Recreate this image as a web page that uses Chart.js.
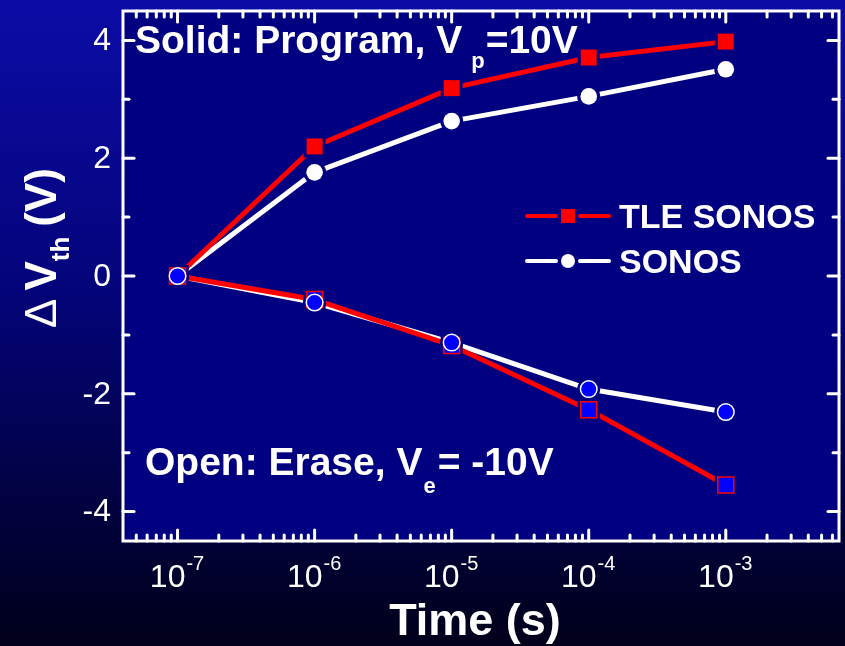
<!DOCTYPE html>
<html><head><meta charset="utf-8">
<script src="https://cdn.jsdelivr.net/npm/chart.js@4"></script>
<style>html,body{margin:0;padding:0;background:#000;overflow:hidden}canvas{display:block}</style>
</head><body>
<canvas id="c" width="845" height="646"></canvas>
<script>
// ---- data ----
const times = [1e-7, 1e-6, 1e-5, 1e-4, 1e-3];
const tleProgram   = [0, 2.20, 3.19, 3.71, 3.98];
const sonosProgram = [0, 1.76, 2.63, 3.05, 3.51];
const tleErase     = [0, -0.40, -1.18, -2.27, -3.55];
const sonosErase   = [0, -0.45, -1.13, -1.92, -2.31];
const xTickExponents = [-7, -6, -5, -4, -3];
const yTickValues  = [-4, -2, 0, 2, 4];
const yMinorValues = [-3, -1, 1, 3];
const seriesNames = ['TLE SONOS', 'SONOS'];
const xMin = 4e-8, xMax = 6.7e-3, yMin = -4.5, yMax = 4.5;

const FONT = '"Liberation Sans", Arial, Helvetica, sans-serif';
const PLOT_BG = '#000080';
const pts = arr => arr.map((y, i) => ({x: times[i], y}));

function lineDs(data, color) {
  return {data: pts(data), borderColor: color, borderWidth: 5, pointRadius: 0,
    showLine: true, tension: 0, borderCapStyle: 'round', borderJoinStyle: 'round', order: 30};
}
function haloDs(data, style) {
  return {data: pts(data), showLine: false, pointStyle: style,
    pointRadius: style === 'rect' ? 15.5 : 11.5, pointBackgroundColor: PLOT_BG,
    pointBorderWidth: 0, pointBorderColor: PLOT_BG, order: 20};
}
function markDs(data, style, fill, border, bw, order) {
  return {data: pts(data), showLine: false, pointStyle: style,
    pointRadius: style === 'rect' ? 11.3 : 8.3, pointBackgroundColor: fill,
    pointBorderColor: border, pointBorderWidth: bw, order};
}

const decor = {
  id: 'decor',
  beforeDraw(chart) {
    const {ctx, chartArea: a} = chart;
    ctx.save();
    const g = ctx.createLinearGradient(0, 0, 0, chart.height);
    g.addColorStop(0, '#0c0ca6');
    g.addColorStop(0.45, '#04047a');
    g.addColorStop(1, '#00001a');
    ctx.fillStyle = g;
    ctx.fillRect(0, 0, chart.width, chart.height);
    ctx.fillStyle = PLOT_BG;
    ctx.fillRect(a.left, a.top, a.right - a.left, a.bottom - a.top);
    ctx.restore();
  },
  afterDraw(chart) {
    const {ctx, chartArea: a} = chart;
    const xs = chart.scales.x, ys = chart.scales.y;
    ctx.save();
    ctx.strokeStyle = '#fff';
    ctx.fillStyle = '#fff';
    ctx.lineWidth = 3;
    const seg = (x1, y1, x2, y2) => { ctx.beginPath(); ctx.moveTo(x1, y1); ctx.lineTo(x2, y2); ctx.stroke(); };
    // border
    ctx.lineJoin = 'miter';
    ctx.strokeRect(a.left, a.top, a.right - a.left, a.bottom - a.top);
    ctx.lineCap = 'round';
    // x ticks (inside, bottom and top)
    for (let d = -8; d <= -2; d++) {
      for (let m = 1; m <= 9; m++) {
        const v = m * Math.pow(10, d);
        if (v <= xMin * 1.02 || v >= xMax * 0.98) continue;
        const px = xs.getPixelForValue(v);
        const len = m === 1 ? 11 : 6;
        seg(px, a.bottom, px, a.bottom - len);
        seg(px, a.top, px, a.top + len);
      }
    }
    // y ticks
    yTickValues.forEach(v => { const py = ys.getPixelForValue(v); seg(a.left, py, a.left + 11, py); seg(a.right, py, a.right - 11, py); });
    yMinorValues.forEach(v => { const py = ys.getPixelForValue(v); seg(a.left, py, a.left + 6, py); seg(a.right, py, a.right - 6, py); });

    // y tick labels
    ctx.font = '32px ' + FONT;
    ctx.textAlign = 'right';
    ctx.textBaseline = 'middle';
    yTickValues.forEach(v => ctx.fillText(String(v), a.left - 12, ys.getPixelForValue(v) + 1));

    // x tick labels 10^e
    ctx.textAlign = 'left';
    ctx.textBaseline = 'alphabetic';
    xTickExponents.forEach(e => {
      const px = xs.getPixelForValue(Math.pow(10, e));
      ctx.font = '32px ' + FONT;
      const w1 = ctx.measureText('10').width;
      ctx.font = '20px ' + FONT;
      const sup = String(e);
      const w2 = ctx.measureText(sup).width;
      const x0 = px - (w1 + w2) / 2 - 1;
      ctx.font = '32px ' + FONT;
      ctx.fillText('10', x0, 587);
      ctx.font = '20px ' + FONT;
      ctx.fillText(sup, x0 + w1 + 1, 570);
    });

    // x title
    ctx.font = 'bold 45px ' + FONT;
    ctx.textAlign = 'center';
    ctx.fillText('Time (s)', 475, 635);

    // y title (rotated)
    ctx.save();
    ctx.translate(56, 248);
    ctx.rotate(-Math.PI / 2);
    ctx.textAlign = 'left';
    const parts = [
      {t: 'Δ', f: '44px ', dy: 0, gap: 8},
      {t: 'V', f: 'bold 44px ', dy: 0, gap: 0},
      {t: 'th', f: 'bold 26px ', dy: 13, gap: 10},
      {t: '(V)', f: 'bold 44px ', dy: 0, gap: 0}
    ];
    let total = 0;
    parts.forEach(p => { ctx.font = p.f + FONT; p.w = ctx.measureText(p.t).width; total += p.w + p.gap; });
    let cx = -total / 2;
    parts.forEach(p => { ctx.font = p.f + FONT; ctx.fillText(p.t, cx, p.dy); cx += p.w + p.gap; });
    ctx.restore();

    // annotations
    ctx.textAlign = 'left';
    ctx.font = 'bold 39px ' + FONT;
    let t1 = 'Solid: Program, V';
    ctx.fillText(t1, 135, 53);
    let w = ctx.measureText(t1).width;
    ctx.font = 'bold 22px ' + FONT;
    ctx.fillText('p', 135 + w + 9, 68);
    let wp = ctx.measureText('p').width;
    ctx.font = 'bold 39px ' + FONT;
    ctx.fillText('=10V', 135 + w + 9 + wp + 1, 53);

    let t2 = 'Open: Erase, V';
    ctx.fillText(t2, 145, 475);
    w = ctx.measureText(t2).width;
    ctx.font = 'bold 22px ' + FONT;
    ctx.fillText('e', 145 + w + 1, 493);
    let we = ctx.measureText('e').width;
    ctx.font = 'bold 39px ' + FONT;
    ctx.fillText('= -10V', 145 + w + 1 + we + 2, 475);

    // legend
    ctx.lineWidth = 4;
    ctx.lineCap = 'round';
    const lx1 = 527, lx2 = 609, lm = 568;
    [[216, '#ff0000', 'rect'], [261, '#ffffff', 'circle']].forEach(([ly, col, st], i) => {
      ctx.strokeStyle = col; ctx.fillStyle = col;
      seg(lx1, ly, lm - 12, ly);
      seg(lm + 12, ly, lx2, ly);
      if (st === 'rect') ctx.fillRect(lm - 7, ly - 7, 14, 14);
      else { ctx.beginPath(); ctx.arc(lm, ly, 7, 0, Math.PI * 2); ctx.fill(); }
      ctx.fillStyle = '#fff';
      ctx.font = 'bold 34px ' + FONT;
      ctx.textAlign = 'left';
      ctx.fillText(seriesNames[i], 619, ly + 12);
    });
    ctx.restore();
  }
};

new Chart(document.getElementById('c'), {
  type: 'scatter',
  data: {
    datasets: [
      lineDs(tleProgram, '#ff0000'),
      lineDs(sonosProgram, '#ffffff'),
      lineDs(tleErase, '#ff0000'),
      lineDs(sonosErase, '#ffffff'),
      haloDs(tleProgram, 'rect'),
      haloDs(sonosProgram, 'circle'),
      haloDs(tleErase, 'rect'),
      haloDs(sonosErase, 'circle'),
      markDs(tleProgram, 'rect', '#ff0000', '#ff0000', 0, 4),
      markDs(sonosProgram, 'circle', '#ffffff', '#ffffff', 0, 3),
      markDs(tleErase, 'rect', '#0000ff', '#ff0000', 1.5, 2),
      markDs(sonosErase, 'circle', '#0000ff', '#ffffff', 1.5, 1)
    ]
  },
  options: {
    responsive: false,
    animation: false,
    devicePixelRatio: 1,
    layout: {autoPadding: false, padding: {left: 123, top: 11, right: 6, bottom: 105}},
    plugins: {legend: {display: false}, tooltip: {enabled: false}},
    scales: {
      x: {type: 'logarithmic', min: xMin, max: xMax, display: false},
      y: {type: 'linear', min: yMin, max: yMax, display: false}
    }
  },
  plugins: [decor]
});
</script>
</body></html>
